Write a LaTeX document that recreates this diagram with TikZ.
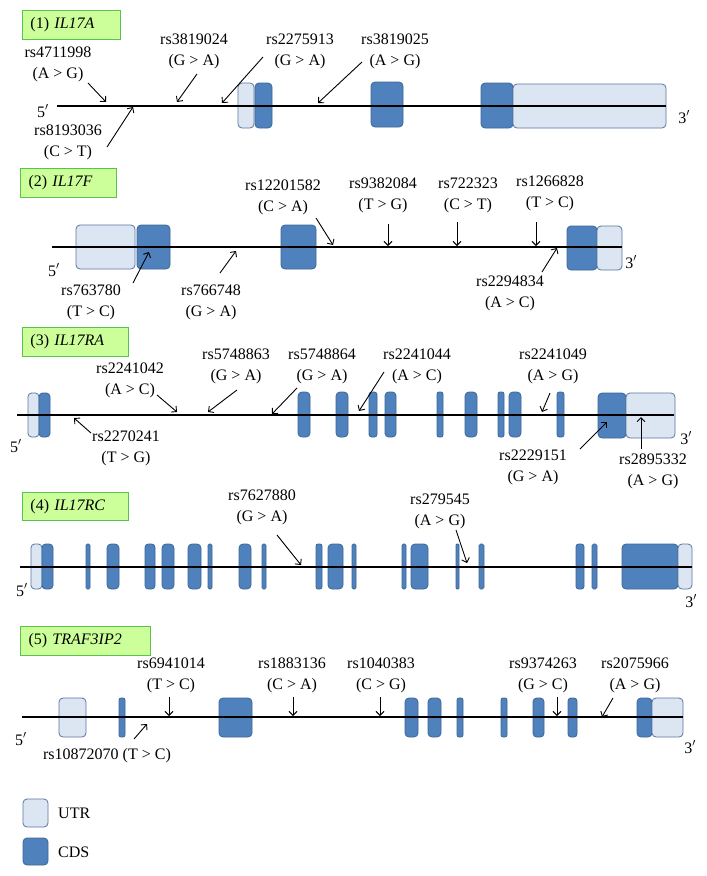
\documentclass[tikz,border=0pt]{standalone}
\usepackage{fontspec}
\setmainfont{Liberation Serif}
\usetikzlibrary{arrows.meta}
\definecolor{cdsfill}{RGB}{79,129,189}
\definecolor{cdsdraw}{RGB}{60,104,150}
\definecolor{utrfill}{RGB}{220,230,242}
\definecolor{utrdraw}{RGB}{88,118,160}
\definecolor{labfill}{RGB}{204,255,153}
\definecolor{labdraw}{RGB}{90,195,80}
\tikzset{
  txt/.style={font=\fontsize{16}{21}\selectfont, inner sep=0pt, align=center},
  genelabel/.style={draw=labdraw, fill=labfill, line width=1pt, anchor=north west,
    inner xsep=8pt, inner ysep=0pt, align=left, font=\fontsize{16}{19}\selectfont},
  gene/.style={line width=1.2pt, black},
  snp/.style={-{Straight Barb[length=4pt,width=8pt,line width=0.9pt]}, line width=0.9pt},
  cds/.style={fill=cdsfill, draw=cdsdraw, line width=0.8pt},
  utr/.style={fill=utrfill, draw=utrdraw, line width=0.8pt},
}
% \ex{style}{x1}{x2}{y1}{y2}
\newcommand\ex[5]{%
  \pgfmathsetmacro\rr{min(4,(#3-#2)/3)}%
  \draw[#1, rounded corners=\rr pt] (#2,#4) rectangle (#3,#5);}
% \arr{name}{x1}{y1}{x2}{y2}
\newcommand\arr[5]{%
  \coordinate (#1s) at (#2,#3);
  \coordinate (#1e) at (#4,#5);
  \draw[snp] (#1s) -- (#1e);}
\begin{document}
\begin{tikzpicture}[x=1pt,y=-1pt]
\useasboundingbox (0,0) rectangle (707,876);
\fill[white] (0,0) rectangle (707,876);

%% ---------- Panel 1: IL17A ----------
\node[genelabel, minimum width=98pt, minimum height=29pt, text width=82pt] (L1) at (22,10) {(1) \textit{IL17A}};
\ex{utr}{238}{254}{83}{128}
\ex{cds}{255}{272}{83}{128}
\ex{cds}{371}{403}{82}{127}
\ex{cds}{481}{513}{83}{128}
\ex{utr}{513}{666}{84}{128}
\coordinate (g1s) at (57,106); \coordinate (g1e) at (666,106);
\draw[gene] (g1s) -- (g1e);
\node[txt] (p15) at (43,111) {5$'$};
\node[txt] (p13) at (684,117) {3$'$};
\node[txt] (t1a) at (58,64) {rs4711998\\(A > G)};
\node[txt] (t1b) at (68,142) {rs8193036\\(C > T)};
\node[txt] (t1c) at (194,51) {rs3819024\\(G > A)};
\node[txt] (t1d) at (300,51) {rs2275913\\(G > A)};
\node[txt] (t1e) at (395,51) {rs3819025\\(A > G)};
\arr{a1a}{88}{83}{106}{102}
\arr{a1b}{107}{147}{133}{107}
\arr{a1c}{197}{74}{177}{102}
\arr{a1d}{263}{57}{222}{103}
\arr{a1e}{362}{62}{318}{103}

%% ---------- Panel 2: IL17F ----------
\node[genelabel, minimum width=96pt, minimum height=29pt, text width=80pt] (L2) at (20,168) {(2) \textit{IL17F}};
\ex{utr}{76}{135}{225}{269}
\ex{cds}{137}{170}{225}{269}
\ex{cds}{281}{316}{225}{269}
\ex{cds}{567}{597}{226}{270}
\ex{utr}{597}{622}{226}{270}
\coordinate (g2s) at (52,247); \coordinate (g2e) at (622,247);
\draw[gene] (g2s) -- (g2e);
\node[txt] (p25) at (54,270) {5$'$};
\node[txt] (p23) at (631,262) {3$'$};
\node[txt] (t2a) at (283,197) {rs12201582\\(C > A)};
\node[txt] (t2b) at (383,195) {rs9382084\\(T > G)};
\node[txt] (t2c) at (468,195) {rs722323\\(C > T)};
\node[txt] (t2d) at (550,193) {rs1266828\\(T > C)};
\node[txt] (t2e) at (510,293) {rs2294834\\(A > C)};
\node[txt] (t2f) at (91,302) {rs763780\\(T > C)};
\node[txt] (t2g) at (211,302) {rs766748\\(G > A)};
\arr{a2a}{316}{218}{333}{245}
\arr{a2b}{388}{224}{388}{246}
\arr{a2c}{457}{222}{457}{246}
\arr{a2d}{536}{222}{536}{246}
\arr{a2e}{542}{272}{557}{248}
\arr{a2f}{133}{283}{149}{252}
\arr{a2g}{220}{273}{236}{251}

%% ---------- Panel 3: IL17RA ----------
\node[genelabel, minimum width=106pt, minimum height=29pt, text width=90pt] (L3) at (22,327) {(3) \textit{IL17RA}};
\ex{utr}{28}{39}{393}{437}
\ex{cds}{39}{50}{393}{437}
\foreach \a/\b in {298/310,336/348,369/377,385/396,437/443,465/477,498/504,509/521,557/564}
  {\ex{cds}{\a}{\b}{392}{437}}
\ex{cds}{598}{626}{393}{438}
\ex{utr}{626}{675}{393}{438}
\coordinate (g3s) at (17,415); \coordinate (g3e) at (674,415);
\draw[gene] (g3s) -- (g3e);
\node[txt] (p35) at (16,446) {5$'$};
\node[txt] (p33) at (686,438) {3$'$};
\node[txt] (t3a) at (130,380) {rs2241042\\(A > C)};
\node[txt] (t3b) at (236,366) {rs5748863\\(G > A)};
\node[txt] (t3c) at (322,366) {rs5748864\\(G > A)};
\node[txt] (t3d) at (417,366) {rs2241044\\(A > C)};
\node[txt] (t3e) at (553,366) {rs2241049\\(A > G)};
\node[txt] (t3f) at (126,448) {rs2270241\\(T > G)};
\node[txt] (t3g) at (533,467) {rs2229151\\(G > A)};
\node[txt] (t3h) at (653,471) {rs2895332\\(A > G)};
\arr{a3a}{157}{395}{177}{412}
\arr{a3b}{237}{390}{208}{412}
\arr{a3c}{297}{388}{272}{414}
\arr{a3d}{384}{372}{359}{411}
\arr{a3e}{550}{393}{542}{412}
\arr{a3f}{91}{433}{74}{418}
\arr{a3g}{580}{449}{607}{422}
\arr{a3h}{641}{449}{641}{417}

%% ---------- Panel 4: IL17RC ----------
\node[genelabel, minimum width=106pt, minimum height=28pt, text width=90pt] (L4) at (22,492) {(4) \textit{IL17RC}};
\ex{utr}{31}{42}{544}{589}
\foreach \a/\b in {42/53,86/90,107/119,145/155,162/174,188/201,208/212,239/251,262/266,316/322,328/343,352/356,402/406,411/428,456/459,479/484,576/584,592/597,622/678}
  {\ex{cds}{\a}{\b}{544}{589}}
\ex{utr}{678}{692}{544}{589}
\coordinate (g4s) at (20,567); \coordinate (g4e) at (692,567);
\draw[gene] (g4s) -- (g4e);
\node[txt] (p45) at (22,590) {5$'$};
\node[txt] (p43) at (691,601) {3$'$};
\node[txt] (t4a) at (262,507) {rs7627880\\(G > A)};
\node[txt] (t4b) at (440,511) {rs279545\\(A > G)};
\arr{a4a}{277}{535}{301}{565}
\arr{a4b}{456}{530}{467}{563}

%% ---------- Panel 5: TRAF3IP2 ----------
\node[genelabel, minimum width=130pt, minimum height=29pt, text width=114pt] (L5) at (20,626) {(5) \textit{TRAF3IP2}};
\ex{utr}{59}{86}{698}{737}
\foreach \a/\b in {119/125,219/252,405/418,428/441,457/463,501/507,533/544,568/577,637/652}
  {\ex{cds}{\a}{\b}{698}{737}}
\ex{utr}{652}{683}{698}{737}
\coordinate (g5s) at (22,717); \coordinate (g5e) at (683,717);
\draw[gene] (g5s) -- (g5e);
\node[txt] (p55) at (21,739) {5$'$};
\node[txt] (p53) at (690,747) {3$'$};
\node[txt] (t5a) at (171,675) {rs6941014\\(T > C)};
\node[txt] (t5b) at (292,675) {rs1883136\\(C > A)};
\node[txt] (t5c) at (381,675) {rs1040383\\(C > G)};
\node[txt] (t5d) at (543,675) {rs9374263\\(G > C)};
\node[txt] (t5e) at (635,675) {rs2075966\\(A > G)};
\node[txt] (t5f) at (107,756) {rs10872070 (T > C)};
\arr{a5a}{169}{697}{169}{716}
\arr{a5b}{293}{697}{293}{716}
\arr{a5c}{380}{697}{380}{716}
\arr{a5d}{557}{697}{557}{716}
\arr{a5e}{613}{698}{602}{717}
\arr{a5f}{134}{739}{147}{724}

%% ---------- Legend ----------
\ex{utr}{23}{48}{799}{827}
\ex{cds}{23}{48}{838}{865}
\node[txt, anchor=west] (lu) at (58,813) {UTR};
\node[txt, anchor=west] (lc) at (58,852) {CDS};
\end{tikzpicture}
\end{document}
